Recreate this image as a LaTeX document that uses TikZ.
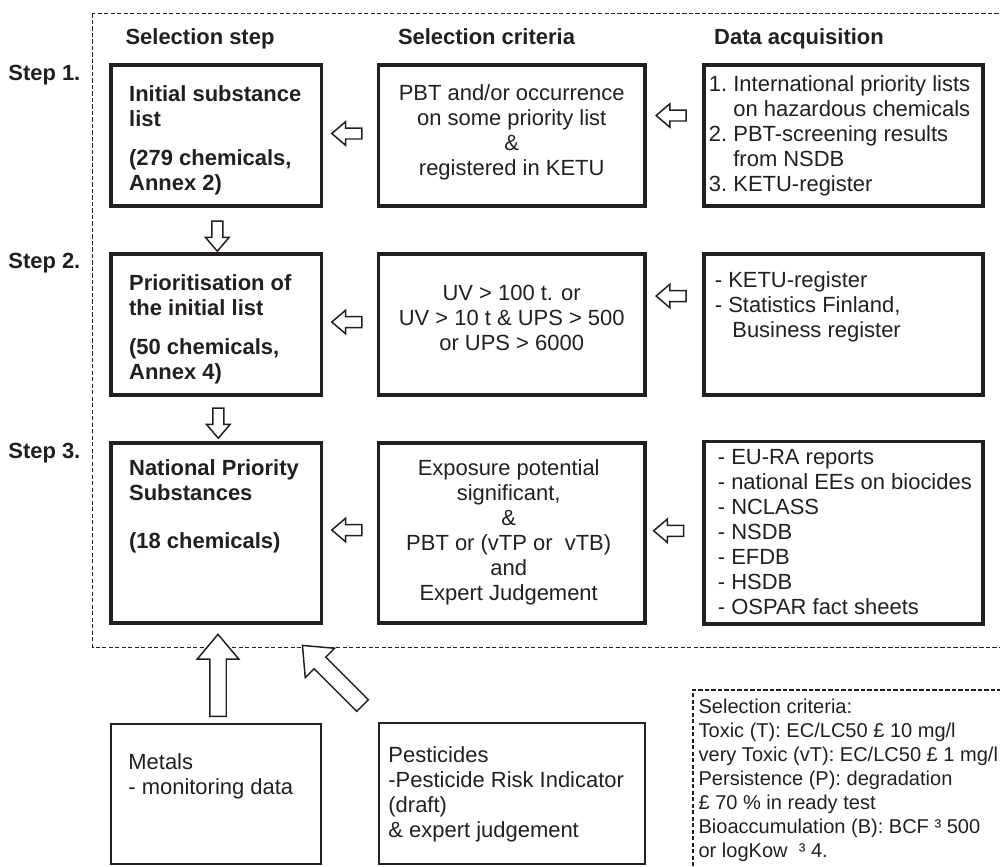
\documentclass[tikz,border=0pt]{standalone}
\usepackage{fontspec}
\setmainfont{Liberation Sans}
\usepackage{xcolor}
\usetikzlibrary{arrows.meta}
\usetikzlibrary{positioning}
\usetikzlibrary{calc}
\usetikzlibrary{shapes.arrows}
\definecolor{ink}{HTML}{231F20}

\tikzset{
	framebox/.style={draw=ink, line width=2pt, inner sep=0pt},
	thinbox/.style={draw=ink, line width=1.1pt, inner sep=0pt},
	boldtxt/.style={font=\bfseries\fontsize{12.5}{14.2}\selectfont, text=ink, inner sep=0pt, align=left},
	plaintxt/.style={font=\fontsize{12.5}{14.2}\selectfont, text=ink, inner sep=0pt, align=left},
	groupframe/.style={draw=ink, line width=0.9pt, dash pattern=on 0.085cm off 0.045cm},
	hollowarrow/.style={single arrow, draw=ink, fill=white, line width=0.85pt, inner xsep=0pt, inner ysep=0.095cm, minimum width=0pt, single arrow head extend=0.125cm, single arrow tip angle=81, minimum height=0.6cm},
	bigarrow/.style={hollowarrow, inner ysep=0.15cm, single arrow head extend=0.25cm, single arrow tip angle=80, minimum height=1.64cm}
}

\begin{document}
\begin{tikzpicture}[x=0.02cm, y=-0.02cm]
	\useasboundingbox (0,0) rectangle (1000,866);
	\clip (0,0) rectangle (1000,866);

	%dashed frame round the three steps
	\draw[groupframe] (92.7,13.3) rectangle (1010,647.3);

	% column heads
	\node[boldtxt, anchor=base] (headstep) at (200,44) {Selection step};
	\node[boldtxt, anchor=base] (headcrit) at (486.5,44) {Selection criteria};
	\node[boldtxt, anchor=base] (headdata) at (799,44) {Data acquisition};

	% step labels
	\node[boldtxt, anchor=base west] (step1) at (8,80) {Step 1.};
	\node[boldtxt, anchor=base west] (step2) at (8,268.3) {Step 2.};
	\node[boldtxt, anchor=base west] (step3) at (8,458.3) {Step 3.};

	% selection step boxes
	\node[framebox, minimum width=4.21cm, minimum height=2.83cm] (init) at (216.3,135.5) {};
	\node[framebox, minimum width=4.21cm, minimum height=2.83cm] (prio) at (216.3,324.5) {};
	\node[framebox, minimum width=4.21cm, minimum height=3.61cm] (nps) at (216.3,533) {};
	\node[boldtxt, below right=0.44cm and 0.39cm of init.north west] (initT) {Initial substance\\ list\\[0.28cm] (279 chemicals,\\ Annex 2)};
	\node[boldtxt, below right=0.44cm and 0.39cm of prio.north west] (prioT) {Prioritisation of\\ the initial list\\[0.28cm] (50 chemicals,\\ Annex 4)};
	\node[boldtxt, below right=0.36cm and 0.39cm of nps.north west] (npsT) {National Priority\\ Substances\\[0.46cm] (18 chemicals)};

	% selection criteria boxes
	\node[framebox, minimum width=5.33cm, minimum height=2.83cm] (crit1) at (511.7,135.5) {};
	\node[framebox, minimum width=5.33cm, minimum height=2.83cm] (crit2) at (511.7,324.5) {};
	\node[framebox, minimum width=5.33cm, minimum height=3.61cm] (crit3) at (511.7,533) {};
	\node[plaintxt, align=center, below=0.42cm of crit1.north] (crit1T) {PBT and/or occurrence\\ on some priority list\\ \&\\ registered in KETU};
	\node[plaintxt, align=center, below=0.66cm of crit2.north] (crit2T) {UV > 100 t. or\\ UV > 10 t \& UPS > 500\\ or UPS > 6000};
	\node[plaintxt, align=center, below=0.36cm of crit3.north, xshift=-0.06cm] (crit3T) {Exposure potential\\ significant,\\ \&\\ PBT or (vTP or\ \ vTB)\\ and\\ Expert Judgement};

	% data acquisition boxes
	\node[framebox, minimum width=5.59cm, minimum height=2.83cm] (data1) at (843.5,135.5) {};
	\node[framebox, minimum width=5.59cm, minimum height=2.83cm] (data2) at (843.5,324.5) {};
	\node[framebox, minimum width=5.59cm, minimum height=3.65cm] (data3) at (843.5,532.5) {};
	\node[plaintxt, below right=0.24cm and 0.13cm of data1.north west] (data1T) {\makebox[0.49cm][l]{1.}International priority lists\\ \hspace*{0.49cm}on hazardous chemicals\\ \makebox[0.49cm][l]{2.}PBT-screening results\\ \hspace*{0.49cm}from NSDB\\ \makebox[0.49cm][l]{3.}KETU-register};
	\node[plaintxt, below right=0.38cm and 0.25cm of data2.north west] (data2T) {- KETU-register\\ - Statistics Finland,\\ \hspace*{0.35cm}Business register};
	\node[plaintxt, below right=0.2cm and 0.31cm of data3.north west] (data3T) {- EU-RA reports\\ - national EEs on biocides\\ - NCLASS\\ - NSDB\\ - EFDB\\ - HSDB\\ - OSPAR fact sheets};

	% arrows inside the frame
	\node[hollowarrow, rotate=180] (arrA1) at ($(init.east)!0.5!(crit1.west)+(0,-2)$) {};
	\node[hollowarrow, rotate=180] (arrA2) at ($(prio.east)!0.5!(crit2.west)+(0,-2.5)$) {};
	\node[hollowarrow, rotate=180] (arrA3) at ($(nps.east)!0.5!(crit3.west)+(0,-3)$) {};
	\node[hollowarrow, rotate=180] (arrB1) at ($(crit1.east)!0.5!(data1.west)+(0,-20)$) {};
	\node[hollowarrow, rotate=180] (arrB2) at ($(crit2.east)!0.5!(data2.west)+(0,-28.5)$) {};
	\node[hollowarrow, rotate=180] (arrB3) at ($(crit3.east)!0.5!(data3.west)+(-2.5,-2)$) {};
	\node[hollowarrow, rotate=270] (arrD1) at ($(init.south)!0.5!(prio.north)+(1,3)$) {};
	\node[hollowarrow, rotate=270] (arrD2) at ($(prio.south)!0.5!(nps.north)+(2,1)$) {};

	% input boxes below
	\node[thinbox, minimum width=4.2cm, minimum height=2.8cm] (metals) at (216,794) {};
	\node[thinbox, minimum width=5.32cm, minimum height=2.82cm] (pest) at (512,793.5) {};
	\node[plaintxt, below right=0.6cm and 0.36cm of metals.north west] (metalsT) {Metals\\ - monitoring data};
	\node[plaintxt, below right=0.48cm and 0.2cm of pest.north west] (pestT) {Pesticides\\ -Pesticide Risk Indicator\\ (draft)\\ \& expert judgement};

	% big arrows into the frame
	\node[bigarrow, rotate=90, anchor=tail] (arrUp) at ([xshift=0.04cm, yshift=0.12cm]metals.north) {};
	\node[bigarrow, rotate=135, minimum height=1.7cm, anchor=tail] (arrDiag) at ([xshift=-0.3cm, yshift=0.32cm]pest.north west) {};

	% criteria legend
	\node[groupframe, anchor=north west, align=left, text=ink, font=\fontsize{11.4}{13.66}\selectfont, inner xsep=0.11cm, inner ysep=0.19cm] (legend) at (692.3,689) {Selection criteria:\\ Toxic (T): EC/LC50 £ 10 mg/l\\ very Toxic (vT): EC/LC50 £ 1 mg/l\\ Persistence (P): degradation\\ £ 70 \% in ready test\\ Bioaccumulation (B): BCF ³ 500\\ or logKow\ \ ³ 4.};
\end{tikzpicture}
\end{document}
